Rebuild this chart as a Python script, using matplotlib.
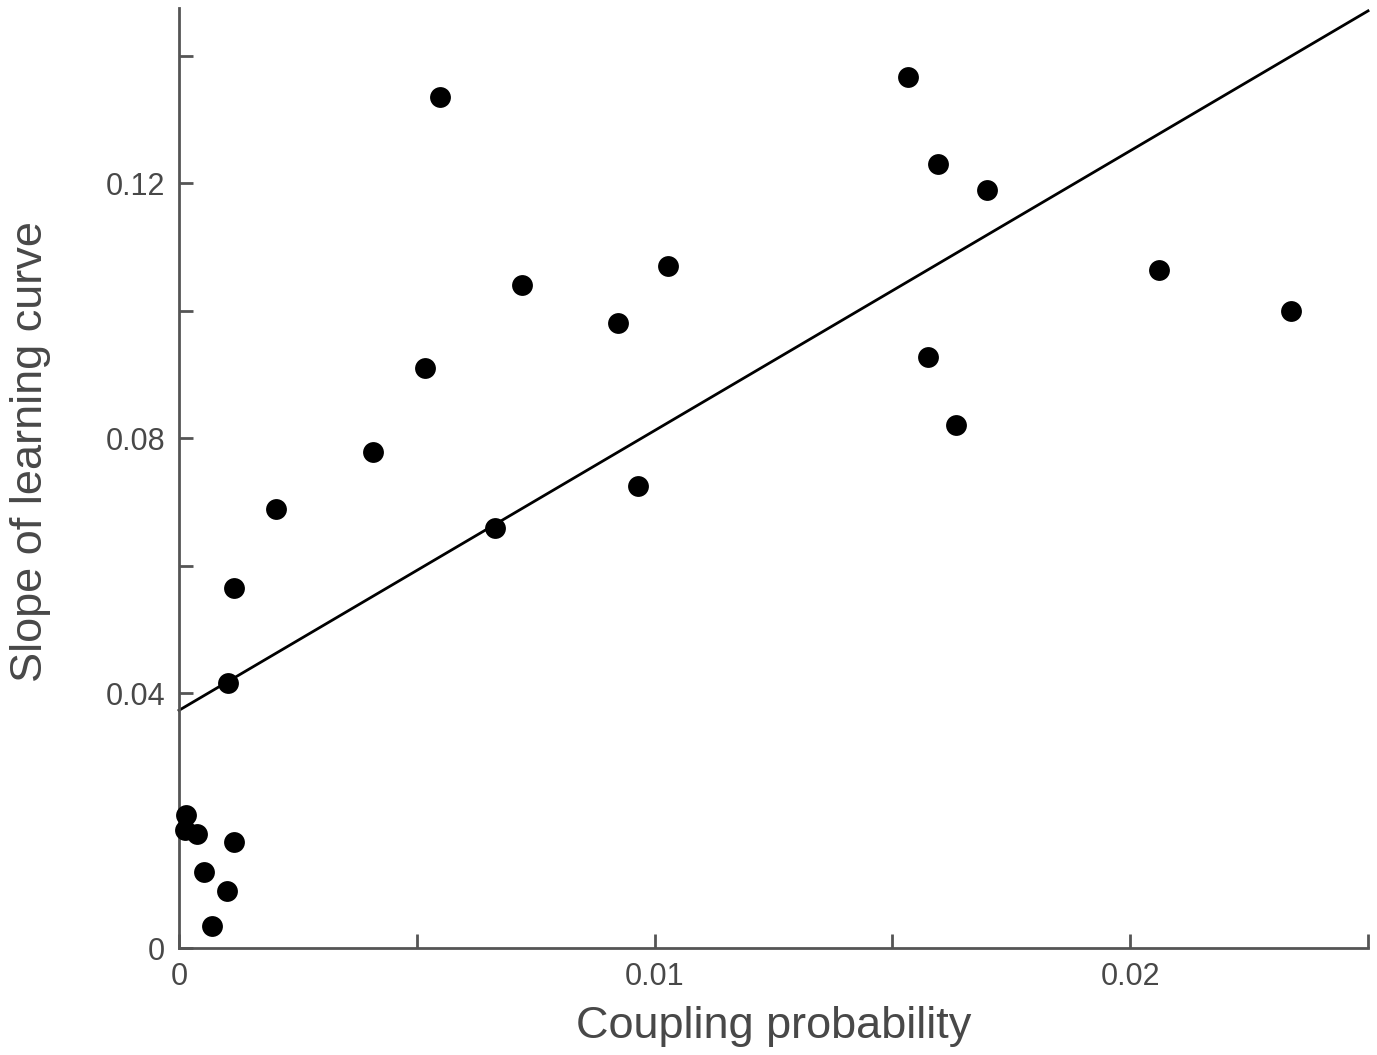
import numpy as np
import matplotlib.pyplot as plt

plt.rcParams['font.family'] = ['Liberation Sans', 'DejaVu Sans']

# coupling probability vs slope of learning curve
coupling = [0.00549, 0.01533, 0.01596, 0.01699, 0.00722, 0.01029, 0.02061,
            0.02339, 0.00922, 0.00518, 0.01575, 0.01634, 0.00408, 0.00964,
            0.00204, 0.00665, 0.00116, 0.00103, 0.00015, 0.00013, 0.00038,
            0.00116, 0.00053, 0.00101, 0.00069]
slope = [0.1336, 0.1366, 0.1231, 0.1189, 0.1040, 0.1070, 0.1064,
         0.0999, 0.0980, 0.0910, 0.0927, 0.0820, 0.0778, 0.0725,
         0.0689, 0.0659, 0.0565, 0.0416, 0.0209, 0.0185, 0.0179,
         0.0166, 0.0119, 0.0089, 0.0035]

# fitted line (intercept, slope)
fit_b = 0.0373
fit_m = 4.39

axcol = '#555555'
txtcol = '#484848'

fig = plt.figure(figsize=(13.77, 10.55), dpi=100)
ax = fig.add_axes([0.130, 0.1014, 0.8635, 0.891])

xs = np.array([0, 0.025])
ax.plot(xs, fit_b + fit_m*xs, color='black', lw=2, zorder=2, clip_on=False)
ax.scatter(coupling, slope, s=225, color='black', zorder=3, clip_on=False,
           linewidths=0)

ax.set_xlim(0, 0.025)
ax.set_ylim(0, 0.1475)
ax.set_xticks([0, 0.005, 0.01, 0.015, 0.02, 0.025])
ax.set_xticklabels(['0', '', '0.01', '', '0.02', ''])
ax.set_yticks([0, 0.02, 0.04, 0.06, 0.08, 0.10, 0.12, 0.14])
ax.set_yticklabels(['0', '', '0.04', '', '0.08', '', '0.12', ''])

for s in ['top', 'right']:
    ax.spines[s].set_visible(False)
for s in ['left', 'bottom']:
    ax.spines[s].set_color(axcol)
    ax.spines[s].set_linewidth(2)
ax.tick_params(direction='in', length=10, width=2, color=axcol,
               labelcolor=txtcol, labelsize=22, pad=10)

ax.set_xlabel('Coupling probability', fontsize=32.5, color=txtcol, labelpad=10)
ax.set_ylabel('Slope of learning curve', fontsize=32.5, color=txtcol)
ax.yaxis.set_label_coords(-0.108, 0.5287)

fig.savefig('out.png')
